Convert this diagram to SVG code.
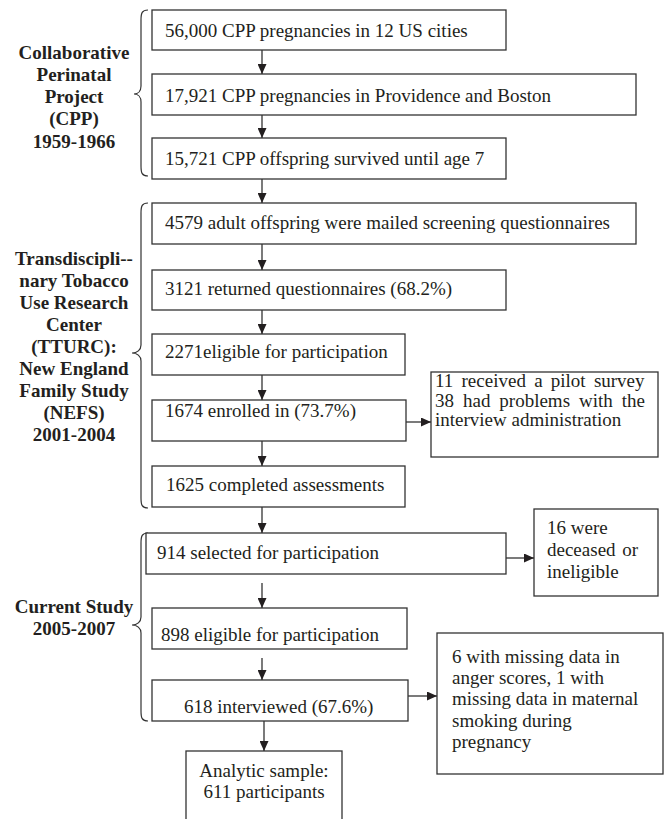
<svg xmlns="http://www.w3.org/2000/svg" width="665" height="819" viewBox="0 0 665 819">
<style>
  .box { fill: #ffffff; stroke: #333333; stroke-width: 1.3; }
  .t { font-family: "Liberation Serif", "Times New Roman", serif; font-size: 19px; fill: #231f20; }
  .lbl { font-family: "Liberation Serif", "Times New Roman", serif; font-size: 19px; font-weight: bold; fill: #231f20; text-anchor: middle; }
  .brace { fill: none; stroke: #333333; stroke-width: 1.2; }
  .conn line { stroke: #333333; stroke-width: 1.3; marker-end: url(#arr); }
</style>
<defs>
  <marker id="arr" markerUnits="userSpaceOnUse" markerWidth="10" markerHeight="9" refX="10" refY="4.5" orient="auto">
    <path d="M0,0 L10,4.5 L0,9 z" fill="#231f20"/>
  </marker>
</defs>
<rect width="665" height="819" fill="#ffffff"/>

<g id="braces">
  <path class="brace" d="M148,10 C142,10 141,13 141,20 L141,86 C141,91 138,94 134,94 C138,94 141,97 141,102 L141,166 C141,173 142,176 148,176"/>
  <path class="brace" d="M148,203 C142,203 141,206 141,213 L141,345 C141,350 137,353 132,353 C137,353 141,356 141,361 L141,498 C141,505 142,508 148,508"/>
  <path class="brace" d="M148,533 C142,533 141,536 141,543 L141,617 C141,622 137,625 132,625 C137,625 141,628 141,633 L141,711 C141,718 142,721 148,721"/>
</g>

<g id="label-cpp">
  <text class="lbl" x="74" y="59">Collaborative</text>
  <text class="lbl" x="74" y="81">Perinatal</text>
  <text class="lbl" x="74" y="103">Project</text>
  <text class="lbl" x="74" y="125">(CPP)</text>
  <text class="lbl" x="74" y="148">1959-1966</text>
</g>
<g id="label-ttrc">
  <text class="lbl" x="74" y="265">Transdiscipli--</text>
  <text class="lbl" x="74" y="287">nary Tobacco</text>
  <text class="lbl" x="74" y="309">Use Research</text>
  <text class="lbl" x="74" y="331">Center</text>
  <text class="lbl" x="74" y="353">(TTURC):</text>
  <text class="lbl" x="74" y="375">New England</text>
  <text class="lbl" x="74" y="397">Family Study</text>
  <text class="lbl" x="74" y="419">(NEFS)</text>
  <text class="lbl" x="74" y="441">2001-2004</text>
</g>
<g id="label-current">
  <text class="lbl" x="74" y="613">Current Study</text>
  <text class="lbl" x="74" y="635">2005-2007</text>
</g>

<g id="n1"><rect class="box" x="152" y="10" width="354" height="40"/><text class="t" x="165" y="37">56,000 CPP pregnancies in 12 US cities</text></g>
<g id="n2"><rect class="box" x="152" y="74" width="484" height="41"/><text class="t" x="165" y="102">17,921 CPP pregnancies in Providence and Boston</text></g>
<g id="n3"><rect class="box" x="152" y="138" width="354" height="41"/><text class="t" x="165" y="165">15,721 CPP offspring survived until age 7</text></g>
<g id="n4"><rect class="box" x="152" y="203" width="484" height="41"/><text class="t" x="165" y="229">4579 adult offspring were mailed screening questionnaires</text></g>
<g id="n5"><rect class="box" x="152" y="270" width="354" height="40"/><text class="t" x="165" y="295">3121 returned questionnaires (68.2%)</text></g>
<g id="n6"><rect class="box" x="152" y="334" width="253" height="41"/><text class="t" x="165" y="358">2271eligible for participation</text></g>
<g id="n7"><rect class="box" x="152" y="400" width="254" height="41"/><text class="t" x="165" y="417">1674 enrolled in (73.7%)</text></g>
<g id="n7s"><rect class="box" x="431" y="372" width="227" height="85"/>
  <text class="t" x="435" y="387" word-spacing="3.5">11 received a pilot survey</text>
  <text class="t" x="435" y="407" word-spacing="4.2">38 had problems with the</text>
  <text class="t" x="435" y="426">interview administration</text>
</g>
<g id="n8"><rect class="box" x="152" y="466" width="253" height="41"/><text class="t" x="166" y="491">1625 completed assessments</text></g>
<g id="n9"><rect class="box" x="146" y="533" width="360" height="41"/><text class="t" x="157" y="559">914 selected for participation</text></g>
<g id="n9s"><rect class="box" x="534" y="509" width="124" height="87"/>
  <text class="t" x="547" y="534">16 were</text>
  <text class="t" x="547" y="556" word-spacing="2">deceased or</text>
  <text class="t" x="547" y="578">ineligible</text>
</g>
<g id="n10"><rect class="box" x="152" y="608" width="255" height="41"/><text class="t" x="161" y="641">898 eligible for participation</text></g>
<g id="n11"><rect class="box" x="152" y="680" width="256" height="41"/><text class="t" x="184" y="713">618 interviewed (67.6%)</text></g>
<g id="n11s"><rect class="box" x="437" y="633" width="226" height="141"/>
  <text class="t" x="452" y="663">6 with missing data in</text>
  <text class="t" x="452" y="684">anger scores, 1 with</text>
  <text class="t" x="452" y="705">missing data in maternal</text>
  <text class="t" x="452" y="727">smoking during</text>
  <text class="t" x="452" y="748">pregnancy</text>
</g>
<g id="n12"><rect class="box" x="186" y="751" width="156" height="80"/>
  <text class="t" x="264" y="777" text-anchor="middle">Analytic sample:</text>
  <text class="t" x="264" y="798" text-anchor="middle">611 participants</text>
</g>

<g id="connectors" class="conn">
  <line x1="262" y1="50" x2="262" y2="74"/>
  <line x1="262" y1="115" x2="262" y2="138"/>
  <line x1="262" y1="179" x2="262" y2="203"/>
  <line x1="262" y1="244" x2="262" y2="270"/>
  <line x1="262" y1="310" x2="262" y2="334"/>
  <line x1="262" y1="375" x2="262" y2="400"/>
  <line x1="262" y1="441" x2="262" y2="466"/>
  <line x1="262" y1="507" x2="262" y2="533"/>
  <line x1="406" y1="422" x2="431" y2="422"/>
  <line x1="506" y1="558" x2="534" y2="558"/>
  <line x1="262" y1="583" x2="262" y2="608"/>
  <line x1="262" y1="658" x2="262" y2="680"/>
  <line x1="408" y1="696" x2="437" y2="696"/>
  <line x1="264" y1="721" x2="264" y2="751"/>
</g>
</svg>
